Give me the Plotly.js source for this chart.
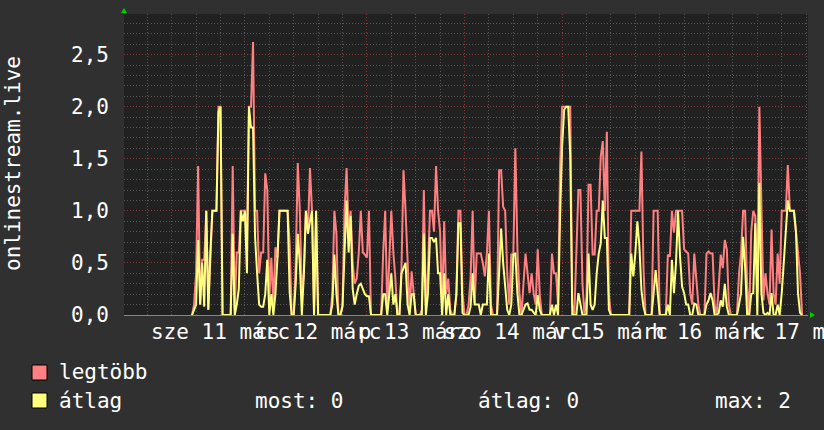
<!DOCTYPE html>
<html>
<head>
<meta charset="utf-8">
<script src="https://cdn.plot.ly/plotly-3.0.1.min.js"></script>
<style>
html,body{margin:0;padding:0;background:#303030;}
#chart{width:824px;height:430px;}
</style>
</head>
<body>
<div id="chart"></div>
<script>
// ---- data (hours after 11 March 00:00, 30-minute samples) ----
const startHour = 5;
const stepHours = 0.5;
const maxVals = [
0,.1,.4,1.43,.1,.53,.53,1,.05,.6,
1,1,1,2,2,0,0,0,0,0,
1.43,.05,.6,.6,1,1,1,.7,2,2,
2.62,1,1,.4,.6,.6,1.36,1.2,.15,.55,
.1,.65,.55,1,1,1,1,1,.7,0,
0,.5,1.46,1,.2,.4,1,.8,1.41,1,
0,1,0,0,0,0,0,0,0,.2,
1,.78,0,0,.1,1,1.41,.8,1,.5,
.3,.35,.6,1,.6,.58,.55,1,0,0,
0,0,0,0,.6,1,.05,.6,1,.6,
.35,0,0,.45,1.39,1,.55,.05,.42,.2,
0,0,0,.05,1.2,.1,.4,1,1,.8,
1.43,1,.8,.05,.9,.2,.35,.05,0,0,
.2,1,
1,.21,0,0,.1,.37,1,.11,
.59,.59,.59,.5,.37,.59,1,.1,0,0,
0,1.39,1.39,1.04,1,.4,.1,.58,.58,1.6,
.64,.21,0,.3,.59,.4,.21,.4,.21,.1,
.63,.2,0,0,0,0,0,.59,.4,.4,
.1,1.43,2,2,2,2,2,.1,0,.59,
1.2,1.2,.3,0,.18,1.25,1.25,.58,.58,1,
1,1.52,1.67,1,1.76,.2,0,0,0,0,
0,0,0,0,0,0,1,1,1,1,
1,1.57,.46,0,0,0,0,1,1,1,
0,0,0,0,.58,.56,1,.79,1,1,
1,1,.63,.61,.59,.21,.1,.59,.37,.1,
0,0,0,.59,.61,.59,.59,.1,0,.27,
.58,.45,.72,.63,.1,0,0,0,0,.4,
.59,1,1,.27,0,.8,1,.95,.2,2,
1,.14,.4,.21,.1,.82,.21,.1,.59,.3,
1,1,1,1.44,1,1,1,.8,.59,.4,
0
];
const avgVals = [
0,.05,.1,.72,.1,.5,.08,1,.05,.6,
1,1,1,1.95,2,0,0,0,0,0,
.78,0,.1,.25,1,.9,1,.4,2,1.8,
1.8,.75,.4,.1,.08,.08,.2,.53,0,.2,
0,.2,.55,1,1,1,1,1,.22,0,
0,.3,.78,.5,0,.4,1,.78,.9,1,
0,1,0,0,0,0,0,0,0,.1,
.58,.2,0,0,.08,.6,1.1,.6,.95,.25,
.1,.2,.28,.3,.25,.2,.18,.18,0,0,
0,0,0,0,.2,.2,0,.2,.4,.1,
.2,0,0,.4,.45,.5,.1,0,.2,.2,
0,0,0,0,.78,0,.2,.74,.74,.7,
.74,.4,.4,0,.4,0,.2,0,0,0,
.2,.88,
.88,.02,0,0,0,.08,.4,.1,
.1,.1,0,.1,.1,.1,.59,0,0,0,
0,.4,.83,.5,.3,.05,0,.1,.58,.59,
.21,0,0,.05,.1,.11,.05,.05,.02,0,
.19,.05,0,0,0,0,0,.1,0,.1,
0,.95,1.62,1.97,2,2,1.52,0,0,0,
.21,.1,0,0,0,.59,.1,.05,.1,.4,
.59,.69,1.1,.74,.74,.05,0,0,0,0,
0,0,0,0,0,0,.59,.37,.59,.9,
.66,.24,.08,0,0,0,0,.21,.43,.21,
0,0,0,0,.1,0,.53,.21,.5,1,
.56,.27,.21,.1,.1,0,0,.11,.1,0,
0,0,0,.1,.14,.21,.14,0,0,.02,
.14,.08,.3,.08,0,0,0,0,0,.1,
.21,.75,.46,0,0,.2,.21,.88,0,1.27,
.21,.02,0,.02,0,.21,0,0,.1,0,
.21,.5,.85,1.1,1,1,1,.8,.21,.02,
0
];
const dayLabelHours = [12, 36, 60, 84, 108, 132, 156];
const dayLabels = ["sze 11 márc", "cs 12 márc", "p 13 márc", "szo 14 márc", "v 15 márc", "h 16 márc", "k 17 márc"];
const seriesNames = ["legtöbb", "átlag"];
const statsText = ["most: 0", "átlag: 0", "max: 2"];
const yTitle = "onlinestream.live";

// ---- layout helpers ----
const W = 824, H = 430;
const PL = 124, PR = 808, PT = 14, PB = 315;
const xRange = [-11.73, 156.46];
const yRange = [0, 2.89];
const px = v => (v - PL) / (PR - PL);
const py = v => (PB - v) / (PB - PT);

const times = maxVals.map((_, i) => startHour + i * stepHours);

const RED = '#ff8080', YEL = '#ffff80';
const MONO = 'DejaVu Sans Mono';
const WHITE = '#ffffff';
const MAJOR = '#843838', MINOR = '#575757';

const traces = [
  {x: times, y: maxVals, type: 'scatter', mode: 'lines', name: seriesNames[0],
   line: {color: RED, width: 2}, hoverinfo: 'skip'},
  {x: times, y: avgVals, type: 'scatter', mode: 'lines', name: seriesNames[1],
   line: {color: YEL, width: 2}, hoverinfo: 'skip'},
  {x: [], y: [], xaxis: 'x2', yaxis: 'y', type: 'scatter', mode: 'lines', showlegend: false, hoverinfo: 'skip'}
];

const annotations = [
  {text: yTitle, xref: 'paper', yref: 'paper', x: px(13), y: py(164), xanchor: 'center', yanchor: 'middle',
   textangle: -90, showarrow: false, font: {family: MONO, size: 21, color: WHITE}},
  {text: seriesNames[0], xref: 'paper', yref: 'paper', x: px(57), y: py(372), xanchor: 'left', yanchor: 'middle',
   showarrow: false, font: {family: MONO, size: 21, color: WHITE}},
  {text: seriesNames[1], xref: 'paper', yref: 'paper', x: px(57), y: py(401), xanchor: 'left', yanchor: 'middle',
   showarrow: false, font: {family: MONO, size: 21, color: WHITE}},
  {text: statsText[0], xref: 'paper', yref: 'paper', x: px(253), y: py(401), xanchor: 'left', yanchor: 'middle',
   showarrow: false, font: {family: MONO, size: 21, color: WHITE}},
  {text: statsText[1], xref: 'paper', yref: 'paper', x: px(476), y: py(401), xanchor: 'left', yanchor: 'middle',
   showarrow: false, font: {family: MONO, size: 21, color: WHITE}},
  {text: statsText[2], xref: 'paper', yref: 'paper', x: px(713), y: py(401), xanchor: 'left', yanchor: 'middle',
   showarrow: false, font: {family: MONO, size: 21, color: WHITE}}
];

const shapes = [
  {type: 'rect', xref: 'paper', yref: 'paper', x0: px(32), x1: px(47), y0: py(365), y1: py(380),
   fillcolor: RED, line: {color: '#000000', width: 1}},
  {type: 'rect', xref: 'paper', yref: 'paper', x0: px(32), x1: px(47), y0: py(393), y1: py(408),
   fillcolor: YEL, line: {color: '#000000', width: 1}},
  // axis arrows
  {type: 'path', xref: 'paper', yref: 'paper',
   path: `M ${px(121)} ${py(13)} L ${px(127)} ${py(13)} L ${px(124)} ${py(8)} Z`,
   fillcolor: '#00cc00', line: {width: 0}},
  {type: 'path', xref: 'paper', yref: 'paper',
   path: `M ${px(810)} ${py(312)} L ${px(810)} ${py(318)} L ${px(815)} ${py(315)} Z`,
   fillcolor: '#00cc00', line: {width: 0}}
];

const layout = {
  width: W, height: H,
  margin: {l: PL, r: W - PR, t: PT, b: H - PB, pad: 0},
  paper_bgcolor: '#303030',
  plot_bgcolor: '#212121',
  showlegend: false,
  separators: ', ',
  font: {family: MONO, size: 21, color: WHITE},
  xaxis: {
    range: xRange, fixedrange: true,
    tickmode: 'array', tickvals: dayLabelHours, ticktext: dayLabels,
    tickangle: 0, ticks: '', showgrid: false, zeroline: false,
    ticklabeloverflow: 'allow', ticklabelstandoff: -2,
    tickfont: {family: MONO, size: 21, color: WHITE},
    showline: true, linecolor: '#8f8a66', linewidth: 1
  },
  xaxis2: {
    range: xRange, overlaying: 'x', anchor: 'y', side: 'bottom',
    tick0: 0, dtick: 24, showticklabels: false, ticks: '',
    showgrid: true, gridcolor: MAJOR, griddash: '1px,2px', gridwidth: 1,
    zeroline: false, showline: false,
    minor: {tick0: 0, dtick: 6, showgrid: true, gridcolor: MINOR, griddash: '1px,2px', gridwidth: 1, ticks: ''}
  },
  yaxis: {
    range: yRange, fixedrange: true,
    tick0: 0, dtick: 0.5, tickformat: '.1f',
    ticks: '', ticklabelstandoff: 14,
    tickfont: {family: MONO, size: 21, color: WHITE},
    showgrid: true, gridcolor: MAJOR, griddash: '1px,2px', gridwidth: 1,
    minor: {dtick: 0.1, showgrid: true, gridcolor: MINOR, griddash: '1px,2px', gridwidth: 1, ticks: ''},
    zeroline: false, showline: false
  },
  annotations: annotations,
  shapes: shapes
};

Plotly.newPlot('chart', traces, layout, {staticPlot: true, displayModeBar: false});
</script>
</body>
</html>
